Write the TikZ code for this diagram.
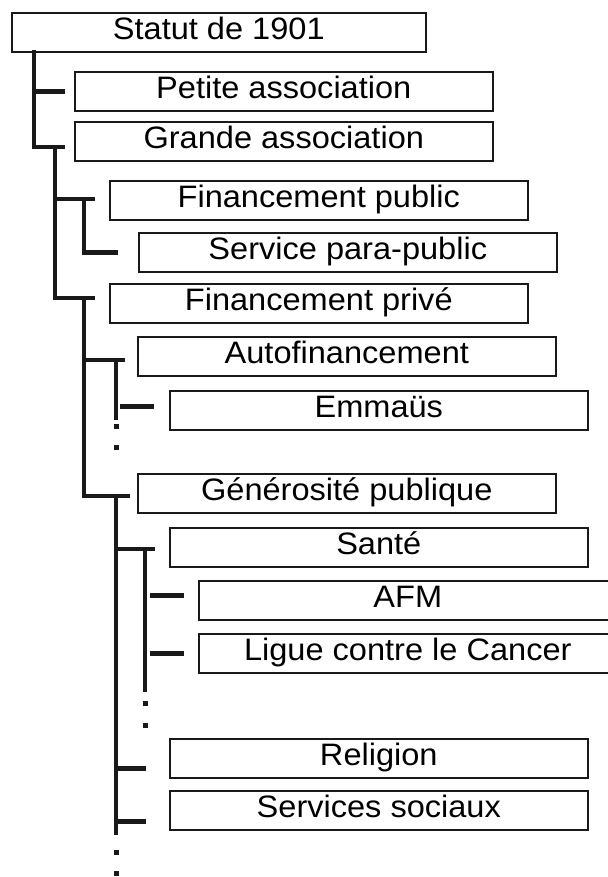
\documentclass[tikz,border=0pt]{standalone}
\usepackage{fontspec}
\usepackage{tikz}
\setmainfont[FakeStretch=1.05]{Liberation Sans}
\def\boxfont{\fontsize{31}{36}\selectfont}
\colorlet{rule line}{black!90}
\tikzset{box/.style={draw=rule line, line width=1.6pt, anchor=north west,
        minimum width=418pt, minimum height=39pt, inner sep=0pt,
        text height=22pt, text depth=8pt, font=\boxfont},
    branch/.style={draw=rule line, line width=4.6pt},
    stub/.style={fill=rule line}}

\begin{document}
\begin{tikzpicture}[x=1pt, y=-1pt]
    \useasboundingbox (0,0) rectangle (607,877);
    \node[box, minimum width=414pt] (statut) at (11,12) {Statut de 1901};
    \node[box] (petite)   at (74,71)   {Petite association};
    \node[box] (grande)   at (74,121)  {Grande association};
    \node[box] (fpub)     at (109,180) {Financement public};
    \node[box] (service)  at (138,232) {Service para-public};
    \node[box] (fprive)   at (109,283) {Financement privé};
    \node[box] (autofin)  at (137,336) {Autofinancement};
    \node[box] (emmaus)   at (169,390) {Emmaüs};
    \node[box] (genero)   at (137,473) {Générosité publique};
    \node[box] (sante)    at (169,527) {Santé};
    \node[box] (afm)      at (198,580) {AFM};
    \node[box] (ligue)    at (198,633) {Ligue contre le Cancer};
    \node[box] (religion) at (169,738) {Religion};
    \node[box] (sociaux)  at (169,790) {Services sociaux};

    % trunks hang from the ticks
    \coordinate (k0) at (34,50);
    \coordinate (k1) at (55,147);
    \coordinate (k2) at (84,199);
    \coordinate (k3) at (84,298);
    \coordinate (k4) at (116,360);
    \coordinate (k5) at (116,496);
    \coordinate (k6) at (145,549);

    \draw[branch] (k0) |- (k1) -- ([xshift=-9pt]grande.west |- k1);
    \draw[branch] (k0 |- petite.west) -- ([xshift=-9pt]petite.west);
    \draw[branch] (k1) |- (k3) -- ([xshift=-14pt]fprive.west |- k3);
    \draw[branch] (k1 |- k2) -- ([xshift=-14pt]fpub.west |- k2);
    \draw[branch] (k2) |- ([xshift=-20pt]service.west);
    \draw[branch] (k3) |- (k5) -- ([xshift=-7pt]genero.west |- k5);
    \draw[branch] (k3 |- k4) -- ([xshift=-12pt]autofin.west |- k4);

    \draw[branch] (k4) -- (116,420);
    \draw[branch] ([xshift=-15pt,yshift=4pt]emmaus.west) -- ++(-34,0);

    \draw[branch] (k5) -- (116,835);
    \draw[branch] (k5 |- k6) -- ([xshift=-14pt]sante.west |- k6);
    \draw[branch] ([xshift=-23pt,yshift=-10pt]religion.west) -- ++(-31,0);
    \draw[branch] ([xshift=-23pt,yshift=-11pt]sociaux.west) -- ++(-31,0);

    \draw[branch] (k6) -- (145,692);
    \draw[branch] ([xshift=-14pt,yshift=5pt]afm.west) -- ++(-34,0);
    \draw[branch] ([xshift=-14pt]ligue.west) -- ++(-34,0);

    \foreach \x/\y in {116/426, 116/447, 145/703, 145/725, 116/852, 116/873}
        \fill[stub] (\x-2.5,\y-2.5) rectangle +(5,5);
\end{tikzpicture}
\end{document}
